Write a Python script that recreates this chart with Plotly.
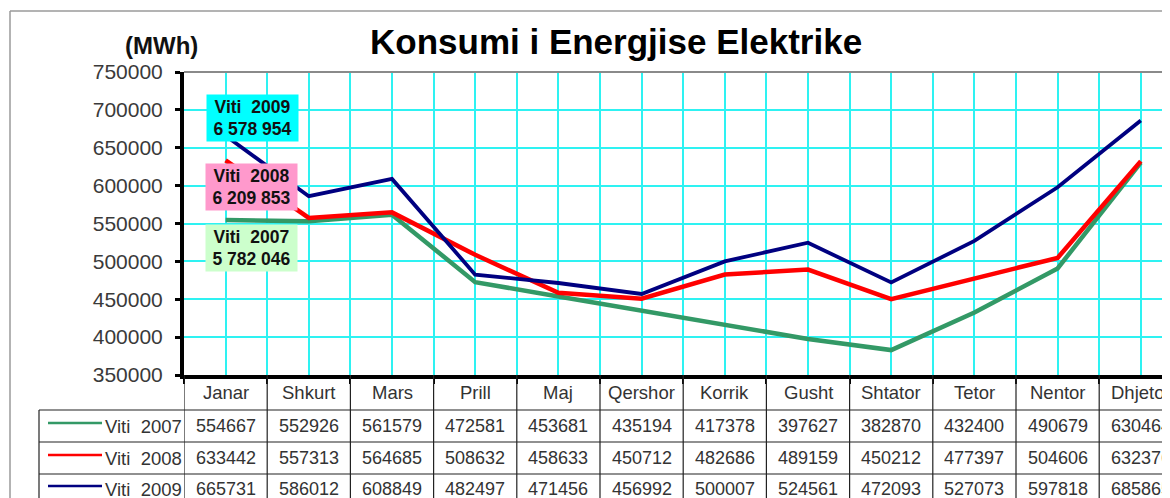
import plotly.graph_objects as go

# browser page has an 8px body margin; the figure fills the rest of the window
OFF = 8
W, H = 1170 - OFF, 498 - OFF

months = ["Janar", "Shkurt", "Mars", "Prill", "Maj", "Qershor", "Korrik",
          "Gusht", "Shtator", "Tetor", "Nentor", "Dhjetor"]
v2007 = [554667, 552926, 561579, 472581, 453681, 435194, 417378, 397627, 382870, 432400, 490679, 630464]
v2008 = [633442, 557313, 564685, 508632, 458633, 450712, 482686, 489159, 450212, 477397, 504606, 632376]
v2009 = [665731, 586012, 608849, 482497, 471456, 456992, 500007, 524561, 472093, 527073, 597818, 685865]
series_names = ["Viti\u00a0 2007", "Viti\u00a0 2008", "Viti\u00a0 2009"]
series_vals = [v2007, v2008, v2009]
series_colors = ["#339966", "#FF0000", "#000080"]
series_widths = [4.5, 4.5, 3.8]
totals = ["5 782 046", "6 209 853", "6 578 954"]
box_colors = ["#CCFFCC", "#FF99CC", "#00FFFF"]
yticks = list(range(350000, 750001, 50000))

FONT = "Arial, Liberation Sans, sans-serif"


def px(x):
    return (x - OFF) / W


def py(y):
    return 1 - (y - OFF) / H


xs = list(range(len(months)))

fig = go.Figure()
for name, vals, col, lw in zip(series_names, series_vals, series_colors, series_widths):
    fig.add_trace(go.Scatter(x=xs, y=vals, mode="lines", name=name,
                             line=dict(color=col, width=lw), showlegend=False))

plot_left, plot_top, plot_bottom = 184, 72, 375
cat_w = 83.2

fig.update_layout(
    width=W, height=H,
    margin=dict(l=0, r=0, t=0, b=0),
    paper_bgcolor="white", plot_bgcolor="white",
    font=dict(family=FONT, color="#333333"),
    xaxis=dict(
        domain=[px(plot_left), 1],
        range=[-0.5, (1170 - plot_left) / cat_w - 0.5],
        tickvals=[k - 0.5 for k in range(13)],
        ticktext=["" for _ in range(13)],
        showgrid=True, gridcolor="#2EF2F2", gridwidth=1.5,
        minor=dict(tickvals=xs, showgrid=True, gridcolor="#2EF2F2", gridwidth=1.5, ticks=""),
        ticks="outside", ticklen=5, tickwidth=2, tickcolor="black",
        showline=True, linecolor="black", linewidth=4,
        zeroline=False, automargin=False, fixedrange=True,
    ),
    yaxis=dict(
        domain=[py(plot_bottom), py(plot_top)],
        range=[350000, 750000],
        tickvals=yticks,
        ticktext=[str(v) for v in yticks],
        showgrid=True, gridcolor="#2EF2F2", gridwidth=1.5,
        ticks="outside", ticklen=5, tickwidth=3, tickcolor="black",
        ticklabelstandoff=8,
        tickfont=dict(size=21, color="#3a3a3a", family=FONT),
        showline=True, linecolor="black", linewidth=4,
        zeroline=False, automargin=False, fixedrange=True,
    ),
)

shapes = []
# outer chart border
shapes.append(dict(type="line", xref="paper", yref="paper", x0=px(10), x1=px(1180), y0=py(11), y1=py(11),
                   line=dict(color="#9a9a9a", width=1.5)))
shapes.append(dict(type="line", xref="paper", yref="paper", x0=px(10), x1=px(10), y0=py(11), y1=py(520),
                   line=dict(color="#9a9a9a", width=1.5)))
# plot area top border
shapes.append(dict(type="line", xref="paper", yref="paper", x0=px(plot_left), x1=1.0, y0=py(plot_top), y1=py(plot_top),
                   line=dict(color="#8a8a8a", width=2)))

# table
row_lines = [410, 442, 474, 506]
row_centers = [426, 458, 489]
header_center = 392
tbl_left = 39
lc = dict(color="#222222", width=1.2)
for k in range(13):
    shapes.append(dict(type="line", xref="x", yref="paper", x0=k - 0.5, x1=k - 0.5,
                       y0=py(plot_bottom), y1=py(506), line=lc))
shapes.append(dict(type="line", xref="paper", yref="paper", x0=px(tbl_left), x1=px(tbl_left),
                   y0=py(row_lines[0]), y1=py(506), line=lc))
for yl in row_lines:
    shapes.append(dict(type="line", xref="paper", yref="paper", x0=px(tbl_left), x1=1.0,
                       y0=py(yl), y1=py(yl), line=lc))
# legend keys
for yc, col in zip(row_centers, series_colors):
    shapes.append(dict(type="line", xref="paper", yref="paper", x0=px(48), x1=px(102),
                       y0=py(yc - 3), y1=py(yc - 3), line=dict(color=col, width=2.5)))

annotations = []
annotations.append(dict(text="<b>Konsumi i Energjise Elektrike</b>", xref="paper", yref="paper",
                        x=px(616), y=py(42), showarrow=False, xanchor="center", yanchor="middle",
                        font=dict(size=35, color="black", family=FONT)))
annotations.append(dict(text="<b>(MWh)</b>", xref="paper", yref="paper",
                        x=px(161), y=py(45), showarrow=False, xanchor="center", yanchor="middle",
                        font=dict(size=24, color="#111111", family=FONT)))
for i, m in enumerate(months):
    annotations.append(dict(text=m, xref="x", yref="paper", x=i, y=py(header_center), showarrow=False,
                            xanchor="center", yanchor="middle",
                            font=dict(size=18.5, color="#333333", family=FONT)))
for r, (name, vals) in enumerate(zip(series_names, series_vals)):
    annotations.append(dict(text=name, xref="paper", yref="paper", x=px(103), y=py(row_centers[r]),
                            showarrow=False, xanchor="left", yanchor="middle",
                            font=dict(size=18.5, color="#333333", family=FONT)))
    for i, v in enumerate(vals):
        annotations.append(dict(text=str(v), xref="x", yref="paper", x=i, y=py(row_centers[r]),
                                showarrow=False, xanchor="center", yanchor="middle",
                                font=dict(size=18, color="#333333", family=FONT)))
# total boxes
box_centers = [(251, 248), (251, 187), (252, 118)]
for (cx, cy), name, tot, bc in zip(box_centers, series_names, totals, box_colors):
    annotations.append(dict(text=f"<b>{name}<br>{tot}</b>", xref="paper", yref="paper",
                            x=px(cx), y=py(cy), showarrow=False, xanchor="center", yanchor="middle",
                            align="center", bgcolor=bc, width=87, height=42, borderpad=2,
                            font=dict(size=17.5, color="#111111", family=FONT)))

fig.update_layout(shapes=shapes, annotations=annotations)
fig.write_html("out.html")
